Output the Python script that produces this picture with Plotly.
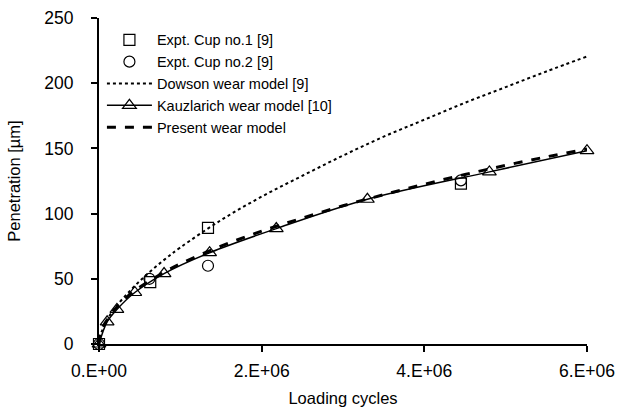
import plotly.graph_objects as go

# Experimental data
cup1_x = [0, 0.63e6, 1.34e6, 4.45e6]
cup1_y = [0, 47.5, 89, 123]
cup2_x = [0, 0.62e6, 1.34e6, 4.45e6]
cup2_y = [0, 50, 60, 125.5]

# Dowson wear model [9]
dowson_x = [0, 0.02e6, 0.05e6, 0.1e6, 0.2e6, 0.4e6, 0.6e6, 0.8e6, 1.0e6, 1.5e6, 2e6, 2.5e6,
            3e6, 3.5e6, 4e6, 4.5e6, 5e6, 5.5e6, 6e6]
dowson_y = [0, 7, 12, 18.5, 28, 42, 54, 64.5, 74, 95, 113, 129, 144.5, 159, 172, 185, 197, 209, 220.5]

# Kauzlarich wear model [10]
kauz_x = [0, 0.1e6, 0.22e6, 0.44e6, 0.8e6, 1.36e6, 2.18e6, 3.3e6, 4.8e6, 6.0e6]
kauz_y = [0, 17, 26.5, 39.5, 54, 70, 88.5, 111, 132, 148.3]

# Present wear model
pres_x = [0, 0.02e6, 0.05e6, 0.1e6, 0.2e6, 0.4e6, 0.6e6, 0.8e6, 1.0e6, 1.5e6, 2e6, 2.5e6,
          3e6, 3.5e6, 4e6, 4.5e6, 5e6, 5.5e6, 6e6]
pres_y = [0, 9, 13.5, 18.5, 27, 39, 47.5, 55, 61.5, 75, 86.5, 96.5, 106, 114.5, 122.5, 130, 137, 143.5, 149.5]

x_ticks = [0, 2e6, 4e6, 6e6]
x_ticklabels = ["0.E+00", "2.E+06", "4.E+06", "6.E+06"]
y_ticks = [0, 50, 100, 150, 200, 250]

FONT = "Liberation Sans, Arial, sans-serif"

fig = go.Figure()
fig.add_trace(go.Scatter(
    x=cup1_x, y=cup1_y, mode="markers", name="Expt. Cup no.1 [9]", cliponaxis=False,
    marker=dict(symbol="square-open", size=11, color="black", line=dict(width=1.2)),
))
fig.add_trace(go.Scatter(
    x=cup2_x, y=cup2_y, mode="markers", name="Expt. Cup no.2 [9]", cliponaxis=False,
    marker=dict(symbol="circle-open", size=11, color="black", line=dict(width=1.2)),
))
fig.add_trace(go.Scatter(
    x=dowson_x, y=dowson_y, mode="lines", name="Dowson wear model [9]", cliponaxis=False,
    line=dict(color="black", width=2, dash="dot", shape="spline"),
))
fig.add_trace(go.Scatter(
    x=kauz_x, y=kauz_y, mode="lines+markers", name="Kauzlarich wear model [10]", cliponaxis=False,
    line=dict(color="black", width=1.5, shape="spline"),
    marker=dict(symbol="triangle-up-open", size=12, color="black", line=dict(width=1.2)),
))
fig.add_trace(go.Scatter(
    x=pres_x, y=pres_y, mode="lines", name="Present wear model", cliponaxis=False,
    line=dict(color="black", width=3, dash="dash", shape="spline"),
))

fig.update_layout(
    template="none",
    width=620, height=414,
    margin=dict(l=99, r=33, t=18, b=70, pad=0, autoexpand=False),
    paper_bgcolor="white", plot_bgcolor="white",
    font=dict(family=FONT, size=16, color="black"),
    showlegend=True,
    legend=dict(
        x=0.006, y=0.982, xanchor="left", yanchor="top",
        bgcolor="rgba(0,0,0,0)", font=dict(size=14.5, color="black"),
        itemwidth=45, tracegroupgap=0,
    ),
    xaxis=dict(
        range=[0, 6e6], tickvals=x_ticks, ticktext=x_ticklabels, automargin=False,
        showgrid=False, zeroline=False, showline=True, linecolor="black", linewidth=2,
        ticks="outside", ticklen=6, tickwidth=1.5, tickcolor="black",
        tickfont=dict(size=17.5), ticklabelstandoff=4,
        title=dict(text="Loading cycles", font=dict(size=16.5), standoff=12),
    ),
    yaxis=dict(
        range=[0, 250], tickvals=y_ticks, automargin=False,
        showgrid=False, zeroline=False, showline=True, linecolor="black", linewidth=2,
        ticks="outside", ticklen=6, tickwidth=1.5, tickcolor="black",
        tickfont=dict(size=17.5), ticklabelstandoff=14,
        title=dict(text="Penetration [µm]", font=dict(size=16.5), standoff=20),
    ),
)

fig.write_html("out.html", config={"displayModeBar": False},
               post_script="document.body.style.margin='0';")
